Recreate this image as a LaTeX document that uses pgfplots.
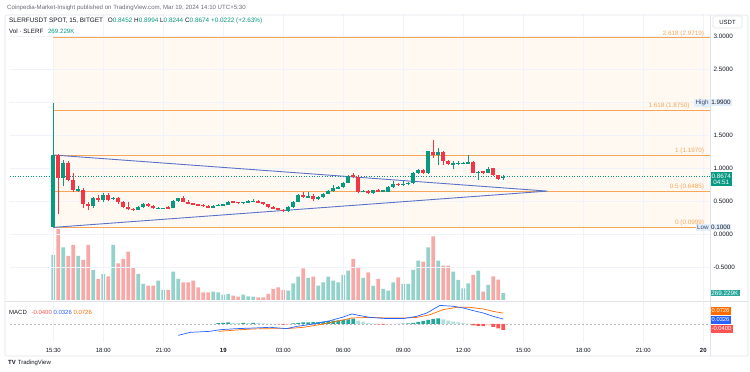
\documentclass[border=0pt]{standalone}
\usepackage{pgfplots}
\pgfplotsset{compat=1.18}
\usepackage{pgfplotstable}
\usepackage{fontspec}
\setmainfont{Liberation Sans}
\definecolor{upc}{HTML}{089981}
\definecolor{dnc}{HTML}{F23645}
\definecolor{upv}{HTML}{92D2CA}
\definecolor{dnv}{HTML}{F7A9A7}
\definecolor{fibc}{HTML}{F5A65B}
\definecolor{fibfill}{HTML}{FFF9F1}
\definecolor{tric}{HTML}{5A73C8}
\definecolor{gridc}{HTML}{F0F3FA}
\definecolor{sepc}{HTML}{E0E3EB}
\definecolor{txt}{HTML}{131722}
\definecolor{greyt}{HTML}{6A6D78}
\definecolor{macdc}{HTML}{2962FF}
\definecolor{sigc}{HTML}{FF6D00}
\definecolor{hdg}{HTML}{26A69A}
\definecolor{hlg}{HTML}{B2DFDB}
\definecolor{hlr}{HTML}{FFCDD2}
\definecolor{hdr}{HTML}{FF5252}
\definecolor{hibox}{HTML}{E3EEFB}
\definecolor{hitxt}{HTML}{3A4A6A}

% up candles: time (h since Mar 18 00:00), open, high, low, close, volume (K)
\pgfplotstableread{
h o hi lo c v
15.5 0.10 1.99 0.10 1.197 1733
16.0 0.85 1.12 0.72 1.07 2029
16.75 0.66 0.72 0.63 0.68 1694
17.5 0.43 0.56 0.40 0.54 1155
18.0 0.51 0.62 0.49 0.59 1001
18.5 0.53 0.56 0.51 0.55 2118
19.75 0.37 0.43 0.36 0.415 1001
20.0 0.415 0.47 0.40 0.46 616
20.75 0.385 0.41 0.375 0.395 743
21.0 0.39 0.40 0.38 0.395 385
21.5 0.40 0.51 0.39 0.50 1090
21.75 0.50 0.55 0.49 0.54 809
23.5 0.40 0.44 0.39 0.43 320
23.75 0.43 0.46 0.42 0.44 296
24.0 0.44 0.46 0.43 0.445 204
24.25 0.445 0.50 0.44 0.49 231
25.0 0.475 0.49 0.46 0.48 204
25.25 0.48 0.51 0.47 0.50 142
25.5 0.49 0.53 0.48 0.50 127
27.25 0.35 0.42 0.34 0.41 358
27.5 0.41 0.50 0.40 0.49 643
27.75 0.49 0.60 0.48 0.59 897
28.25 0.565 0.64 0.55 0.57 847
28.75 0.53 0.57 0.52 0.56 551
29.0 0.56 0.62 0.55 0.61 681
29.25 0.61 0.66 0.60 0.65 897
29.5 0.65 0.74 0.64 0.69 743
29.75 0.69 0.72 0.68 0.71 681
30.0 0.71 0.79 0.70 0.78 963
30.25 0.78 0.89 0.77 0.88 1128
31.0 0.64 0.67 0.63 0.65 847
31.5 0.62 0.67 0.61 0.66 539
32.0 0.65 0.67 0.64 0.66 424
32.25 0.64 0.72 0.63 0.71 358
32.5 0.71 0.80 0.70 0.76 681
33.0 0.745 0.81 0.73 0.755 616
33.25 0.755 0.79 0.74 0.78 616
33.5 0.77 0.94 0.76 0.92 1155
33.75 0.92 0.98 0.91 0.97 1513
34.25 0.92 1.26 0.91 1.25 2029
34.75 1.19 1.30 1.05 1.24 1513
35.5 1.055 1.11 0.98 1.07 1090
35.75 1.07 1.10 1.04 1.075 770
36.0 1.07 1.09 1.06 1.075 450
36.25 1.07 1.20 1.06 1.09 643
36.75 0.93 0.96 0.82 0.94 1128
37.25 0.93 1.01 0.92 0.99 578
38.0 0.8452 0.8994 0.8244 0.8674 269.229
}\upcandles

% down candles
\pgfplotstableread{
h o hi lo c v
15.75 1.197 1.21 0.31 0.85 2734
16.25 1.07 1.11 0.80 0.82 1694
16.5 0.82 0.92 0.63 0.67 2118
17.0 0.67 0.70 0.40 0.45 1540
17.25 0.45 0.48 0.36 0.43 2118
17.75 0.55 0.59 0.49 0.51 809
18.25 0.59 0.62 0.50 0.52 912
18.75 0.54 0.56 0.46 0.48 1413
19.0 0.48 0.50 0.39 0.41 1579
19.25 0.41 0.48 0.36 0.38 1860
19.5 0.38 0.40 0.35 0.37 1259
20.25 0.46 0.47 0.41 0.425 551
20.5 0.425 0.44 0.38 0.39 551
21.25 0.405 0.42 0.38 0.395 385
22.0 0.55 0.58 0.48 0.49 681
22.25 0.49 0.52 0.45 0.46 681
22.5 0.46 0.47 0.44 0.45 743
22.75 0.45 0.46 0.42 0.44 489
23.0 0.44 0.45 0.41 0.43 296
23.25 0.43 0.44 0.39 0.40 296
24.5 0.49 0.50 0.47 0.48 166
24.75 0.48 0.49 0.46 0.475 127
25.75 0.50 0.51 0.47 0.48 104
26.0 0.48 0.49 0.44 0.45 104
26.25 0.45 0.46 0.40 0.41 231
26.5 0.41 0.42 0.38 0.39 424
26.75 0.39 0.40 0.36 0.37 489
27.0 0.37 0.38 0.34 0.35 385
28.0 0.59 0.64 0.55 0.57 1220
28.5 0.57 0.60 0.50 0.53 897
30.5 0.89 0.93 0.85 0.86 1579
30.75 0.87 0.90 0.62 0.64 1259
31.25 0.65 0.66 0.60 0.62 1066
31.75 0.66 0.68 0.64 0.65 809
32.75 0.76 0.78 0.73 0.745 874
34.0 0.97 0.98 0.91 0.92 1475
34.5 1.24 1.42 1.15 1.19 2452
35.0 1.24 1.26 1.04 1.10 1321
35.25 1.10 1.12 1.04 1.055 1321
36.5 1.095 1.10 0.92 0.93 963
37.0 0.945 0.95 0.91 0.935 320
37.5 0.995 1.00 0.88 0.89 912
37.75 0.89 0.90 0.82 0.84 782
}\dncandles

\pgfplotsset{
  pane/.style={scale only axis, width=700pt, xmin=13.335, xmax=48.335,
    axis line style={draw=none}, tick style={draw=none}, major tick length=0pt,
    clip mode=individual},
  wick/.style={draw=none, mark=none, forget plot,
    error bars/.cd, y dir=plus, y explicit, error mark=none,
    error bar style={draw=#1, line width=0.8pt, solid}},
  body/.style={draw=none, mark=none, forget plot,
    error bars/.cd, y dir=both, y explicit, error mark=none,
    error bar style={draw=#1, line width=3.7pt, solid, line cap=butt}},
  hbar/.style={ybar, bar width=3.8pt, bar shift=0pt, fill=#1, draw=none, forget plot},
}
\tikzset{lbl/.style={font=\fontsize{6.3}{7}\selectfont, inner sep=1.2pt},
  slbl/.style={font=\fontsize{5.8}{6}\selectfont, inner xsep=1.5pt, inner ysep=0.9pt, minimum height=8.4pt}}

\begin{document}
\begin{tikzpicture}[x=1pt,y=1pt]
\useasboundingbox (0,0) rectangle (750,372);
\fill[white] (0,0) rectangle (750,372);

% ---- fib background
\begin{axis}[pane, at={(10pt,72pt)}, anchor=south west, height=286pt,
  ymin=-1, ymax=3.33333, xtick=\empty, ytick=\empty]
\addplot[fill=fibfill, draw=none] coordinates {(15.5,0.0999) (48.335,0.0999) (48.335,2.9719) (15.5,2.9719) (15.5,0.0999)};
\end{axis}

% ---- volume
\begin{axis}[pane, at={(10pt,72pt)}, anchor=south west, height=286pt,
  ymin=0, ymax=11011, xtick=\empty, ytick=\empty]
\addplot[hbar=upv] table[x=h, y=v] {\upcandles};
\addplot[hbar=dnv] table[x=h, y=v] {\dncandles};
\end{axis}

% ---- price pane
\begin{axis}[pane, at={(10pt,72pt)}, anchor=south west, height=286pt,
  ymin=-1, ymax=3.33333,
  xtick={15.5,18,21,24,27,30,33,36,39,42,45,48}, xticklabels={},
  xmajorgrids, ymajorgrids, grid style={draw=gridc, line width=0.6pt},
  ytick={-0.5,0,0.5,1,1.5,2.5,3}, extra y ticks={2}, extra y tick labels={},
  yticklabel pos=right,
  yticklabel style={font=\fontsize{6.3}{7}\selectfont, text=txt,
    /pgf/number format/.cd, fixed, fixed zerofill, precision=4, assume math mode=true}]

% fib levels
\addplot[fibc, line width=0.8pt] coordinates {(15.5,0.0999) (48.335,0.0999)};
\addplot[fibc, line width=0.8pt] coordinates {(15.5,0.6485) (48.335,0.6485)};
\addplot[fibc, line width=0.8pt] coordinates {(15.5,1.1970) (48.335,1.1970)};
\addplot[fibc, line width=0.8pt] coordinates {(15.5,1.8750) (48.335,1.8750)};
\addplot[fibc, line width=0.8pt] coordinates {(15.5,2.9719) (48.335,2.9719)};
\node[lbl, text=fibc, anchor=south east] at (axis cs:48.1,0.0999) {0 (0.0999)};
\node[lbl, text=fibc, anchor=south east] at (axis cs:48.1,0.6485) {0.5 (0.6485)};
\node[lbl, text=fibc, anchor=south east] at (axis cs:48.1,1.1970) {1 (1.1970)};
\node[lbl, text=fibc, anchor=south east] at (axis cs:47.38,1.8750) {1.618 (1.8750)};
\node[lbl, text=fibc, anchor=south east] at (axis cs:48.1,2.9719) {2.618 (2.9719)};

% current price line
\addplot[upc, dotted, line width=0.6pt] coordinates {(13.335,0.8674) (48.335,0.8674)};

% triangle
\addplot[tric, line width=0.9pt] coordinates {(15.5,1.197) (40.2,0.65) (15.5,0.0999)};

% candles
\addplot[wick=upc] table[x=h, y=lo, y error expr=\thisrow{hi}-\thisrow{lo}] {\upcandles};
\addplot[wick=dnc] table[x=h, y=lo, y error expr=\thisrow{hi}-\thisrow{lo}] {\dncandles};
\addplot[body=upc] table[x=h, y expr=(\thisrow{o}+\thisrow{c})/2, y error expr={max(abs(\thisrow{c}-\thisrow{o})/2,0.008)}] {\upcandles};
\addplot[body=dnc] table[x=h, y expr=(\thisrow{o}+\thisrow{c})/2, y error expr={max(abs(\thisrow{c}-\thisrow{o})/2,0.008)}] {\dncandles};

% price-scale markers
\node[lbl, fill=hibox, text=hitxt, anchor=east] at (axis cs:48.335,1.99) {High};
\node[lbl, fill=hibox, text=txt, anchor=west] at (axis cs:48.335,1.99) {1.9900};
\node[lbl, fill=hibox, text=hitxt, anchor=east] at (axis cs:48.335,0.0999) {Low};
\node[lbl, fill=hibox, text=txt, anchor=west, inner sep=0.8pt] at (axis cs:48.335,0.0999) {0.1000};
\node[lbl, fill=upc, text=white, anchor=north west, align=center, inner sep=1.5pt] at (axis cs:48.335,0.94) {0.8674\\[-1pt]04:51};
\node[lbl, fill=hdg, text=white, anchor=west] at (axis cs:48.335,-0.894) {269.229K};
\end{axis}

% ---- MACD pane
\begin{axis}[pane, at={(10pt,30pt)}, anchor=south west, height=40pt,
  ymin=-0.12, ymax=0.14667,
  xtick={15.5,18,21,24,27,30,33,36,39,42,45,48},
  xticklabels={15:30,18:00,21:00,\textbf{19},03:00,06:00,09:00,12:00,15:00,18:00,21:00,\textbf{20}},
  xmajorgrids, grid style={draw=gridc, line width=0.6pt}, ytick=\empty,
  xticklabel style={font=\fontsize{6}{7}\selectfont, text=txt, yshift=-3pt}]
\addplot[gray!55, line width=0.5pt, dash pattern=on 2pt off 2pt] coordinates {(13.335,0) (48.335,0)};
% histogram
\addplot[hbar=hdg] coordinates {(23.75,0.006) (24.0,0.008) (24.25,0.010) (25.0,0.008) (25.5,0.008)
 (27.5,0.004) (27.75,0.008) (28.0,0.010) (28.25,0.011) (28.5,0.012) (28.75,0.013) (29.0,0.015)
 (29.25,0.019) (29.5,0.022) (29.75,0.024) (30.0,0.026) (30.25,0.030) (30.5,0.035)
 (32.75,0.001) (33.0,0.002) (33.25,0.004) (33.5,0.008) (33.75,0.014) (34.0,0.020) (34.25,0.028) (34.5,0.034) (34.75,0.038)};
\addplot[hbar=hlg] coordinates {(24.5,0.008) (24.75,0.006) (25.25,0.006) (25.75,0.006) (26.0,0.004) (26.25,0.002) (26.5,0.001)
 (30.75,0.022) (31.0,0.014) (31.25,0.008) (31.5,0.003)
 (35.0,0.030) (35.25,0.023) (35.5,0.016) (35.75,0.011) (36.0,0.006) (36.25,0.002)};
\addplot[hbar=hlr] coordinates {(27.25,-0.002) (32.25,-0.002) (32.5,-0.001) (37.25,-0.010)};
\addplot[hbar=hdr] coordinates {(26.75,-0.001) (27.0,-0.004) (31.75,-0.003) (32.0,-0.004)
 (36.5,-0.010) (36.75,-0.012) (37.0,-0.014) (37.5,-0.020) (37.75,-0.030) (38.0,-0.040)};
% signal and MACD lines
\addplot[sigc, line width=0.7pt] coordinates {(23.75,-0.049) (24.67,-0.040) (25.5,-0.033) (26.335,-0.031) (27.17,-0.031)
 (28.0,-0.022) (28.835,-0.004) (29.67,0.018) (30.42,0.040) (31.335,0.044) (32.17,0.040) (33.0,0.040)
 (33.67,0.044) (34.335,0.062) (35.0,0.096) (35.67,0.111) (36.335,0.111) (37.0,0.100) (37.5,0.084) (38.0,0.0726)};
\addplot[macdc, line width=0.7pt] coordinates {(21.75,-0.0756) (22.335,-0.0556) (23.335,-0.049) (23.835,-0.038)
 (24.67,-0.031) (25.5,-0.027) (26.335,-0.022) (27.17,-0.031) (27.67,-0.016) (28.5,0.0) (29.335,0.022)
 (30.0,0.047) (30.42,0.067) (30.835,0.056) (31.335,0.044) (32.17,0.036) (33.0,0.036) (33.67,0.051)
 (34.17,0.073) (34.835,0.124) (35.5,0.118) (36.0,0.107) (36.5,0.089) (37.0,0.073) (37.5,0.051) (38.0,0.0326)};
\node[slbl, fill=sigc, text=white, anchor=west] at (axis cs:48.335,0.0867) {0.0726};
\node[slbl, fill=macdc, text=white, anchor=west] at (axis cs:48.335,0.0267) {0.0326};
\node[slbl, fill=hdr, text=white, anchor=west] at (axis cs:48.335,-0.0333) {-0.0400};
\end{axis}

% frame and separators
\draw[sepc, line width=0.6pt, rounded corners=2pt] (5,16) rectangle (748,357);
\draw[sepc, line width=0.6pt] (5,71) -- (748,71);
\draw[sepc, line width=0.6pt] (710,16) -- (710,357);
\draw[sepc, line width=0.6pt, rounded corners=1.5pt] (713,344) rectangle (742,356);
\node[font=\fontsize{6}{7}\selectfont, text=txt] at (727.5,350) {USDT};

% header texts
\node[anchor=west, inner sep=0, font=\fontsize{6.1}{7}\selectfont, text=greyt] at (7,364)
  {Coinpedia-Market-Insight published on TradingView.com, Mar 19, 2024 14:10 UTC+5:30};
\node[anchor=west, inner sep=0, font=\fontsize{6.4}{7}\selectfont, text=txt] at (9,351)
  {SLERFUSDT SPOT, 15, BITGET\hspace{3pt} O{\color{upc}0.8452} H{\color{upc}0.8994} L{\color{upc}0.8244} C{\color{upc}0.8674} {\color{upc}+0.0222 (+2.63\%)}};
\node[anchor=west, inner sep=0, font=\fontsize{6.2}{7}\selectfont, text=txt] at (9,341)
  {Vol · SLERF\hspace{3pt} {\color{upc}269.229K}};
\node[anchor=west, inner sep=0, font=\fontsize{6}{7}\selectfont, text=txt] at (9,60)
  {MACD\hspace{3pt} {\color{hdr}-0.0400} {\color{macdc}0.0326} {\color{sigc}0.0726}};
\node[anchor=west, inner sep=0, font=\fontsize{6}{7}\selectfont, text=txt] at (8,9)
  {\textbf{TV}\hspace{2pt}TradingView};
\end{tikzpicture}
\end{document}
